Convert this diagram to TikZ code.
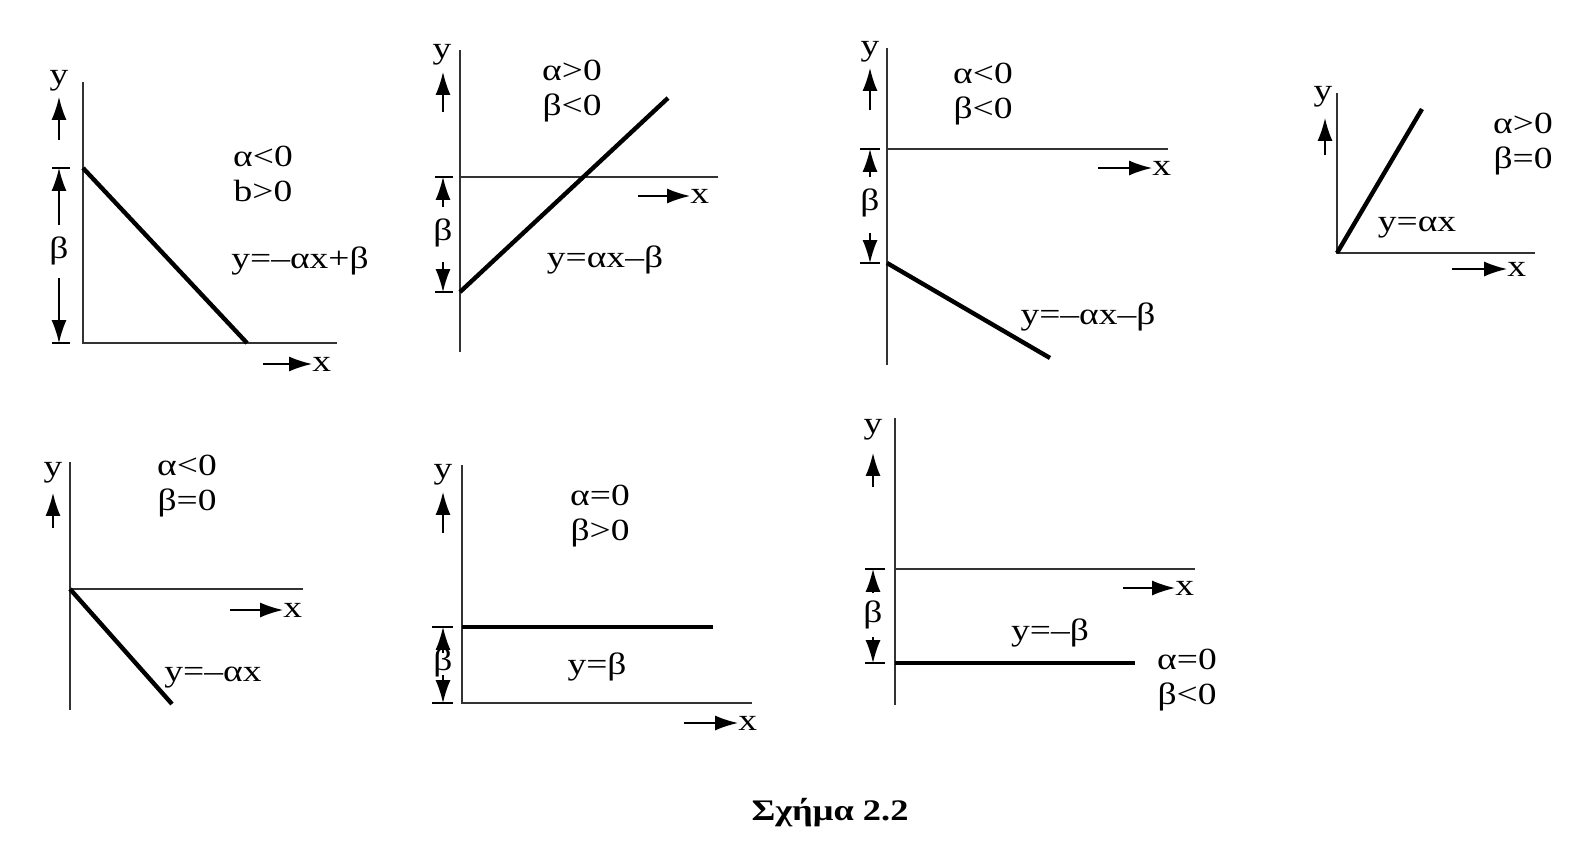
\documentclass[tikz,border=0pt]{standalone}
\usepackage{fontspec}
\setmainfont[FakeStretch=1.22]{Liberation Serif}
\usetikzlibrary{arrows.meta, calc}
\tikzset{
    eje/.style={line width=1.1pt, black!80},
    recta/.style={line width=2.5pt},
    flecha/.style={line width=0.9pt, -{Latex[length=13pt,width=8.5pt]}},
    marca/.style={line width=0.9pt},
    etiqueta/.style={inner sep=0pt, align=center, font=\fontsize{17.5}{19.5}\selectfont},
}

\begin{document}
\begin{tikzpicture}[x=0.02cm, y=-0.02cm]
\useasboundingbox (0,0) rectangle (1589,852);
\begin{scope}[shift={(83,343)}]
\draw[eje] (0,-261) -- (0,0) -- (254,0);
\draw[recta] (0,-175) -- (164,0);
\node[etiqueta] (y1) at (-24,-262) {y};
\draw[flecha] (-24,-203) -- (-24,-246);
\draw[marca] (-31,-175) -- (-13,-175) (-31,0) -- (-13,0);
\node[etiqueta] (b1) at (-24,-92) {β};
\draw[flecha] (-24,-118) -- (-24,-175);
\draw[flecha] (-24,-65) -- (-24,0);
\node[etiqueta] (c1) at (180,-169) {α<0\\b>0};
\node[etiqueta] (e1) at (217,-82) {y=–αx+β};
\node[etiqueta, anchor=west] (x1) at (229,21) {x};
\draw[flecha] (180,21) -- (x1.west);
\end{scope}
\begin{scope}[shift={(460,177)}]
\draw[eje] (0,-127) -- (0,175);
\draw[eje] (0,0) -- (258,0);
\draw[recta] (0,115) -- (208,-79);
\node[etiqueta] (y2) at (-18,-122) {y};
\draw[flecha] (-17,-65) -- (-17,-105);
\draw[marca] (-25,0) -- (-7,0) (-25,115) -- (-7,115);
\node[etiqueta] (b2) at (-17,56) {β};
\draw[flecha] (-17,30) -- (-17,0);
\draw[flecha] (-17,85) -- (-17,115);
\node[etiqueta] (c2) at (112,-86) {α>0\\β<0};
\node[etiqueta] (e2) at (145,83) {y=αx–β};
\node[etiqueta, anchor=west] (x2) at (230,19) {x};
\draw[flecha] (178,19) -- (x2.west);
\end{scope}
\begin{scope}[shift={(887,149)}]
\draw[eje] (0,-101) -- (0,216);
\draw[eje] (0,0) -- (281,0);
\draw[recta] (0,114) -- (163,209);
\node[etiqueta] (y3) at (-17,-97) {y};
\draw[flecha] (-17,-39) -- (-17,-81);
\draw[marca] (-27,0) -- (-7,0) (-27,114) -- (-7,114);
\node[etiqueta] (b3) at (-17,54) {β};
\draw[flecha] (-17,28) -- (-17,0);
\draw[flecha] (-17,84) -- (-17,114);
\node[etiqueta] (c3) at (96,-55) {α<0\\β<0};
\node[etiqueta] (e3) at (201,168) {y=–αx–β};
\node[etiqueta, anchor=west] (x3) at (265,19) {x};
\draw[flecha] (211,19) -- (x3.west);
\end{scope}
\begin{scope}[shift={(1337,253)}]
\draw[eje] (0,-160) -- (0,0) -- (198,0);
\draw[recta] (0,0) -- (85,-144);
\node[etiqueta] (y4) at (-14,-156) {y};
\draw[flecha] (-12,-98) -- (-12,-135);
\node[etiqueta] (c4) at (186,-109) {α>0\\β=0};
\node[etiqueta] (e4) at (80,-25) {y=αx};
\node[etiqueta, anchor=west] (x4) at (170,16) {x};
\draw[flecha] (115,16) -- (x4.west);
\end{scope}
\begin{scope}[shift={(70,589)}]
\draw[eje] (0,-127) -- (0,121);
\draw[eje] (0,0) -- (233,0);
\draw[recta] (0,0) -- (102,115);
\node[etiqueta] (y5) at (-17,-116) {y};
\draw[flecha] (-17,-61) -- (-17,-96);
\node[etiqueta] (c5) at (117,-103) {α<0\\β=0};
\node[etiqueta] (e5) at (143,89) {y=–αx};
\node[etiqueta, anchor=west] (x5) at (213,21) {x};
\draw[flecha] (160,21) -- (x5.west);
\end{scope}
\begin{scope}[shift={(462,703)}]
\draw[eje] (0,-238) -- (0,0) -- (290,0);
\draw[recta] (0,-76) -- (251,-76);
\node[etiqueta] (y6) at (-19,-228) {y};
\draw[flecha] (-19,-170) -- (-19,-211);
\draw[marca] (-30,-76) -- (-9,-76) (-30,0) -- (-9,0);
\node[etiqueta] (b6) at (-19,-40) {β};
\draw[flecha] (-19,-50) -- (-19,-76);
\draw[flecha] (-19,-28) -- (-19,0);
\node[etiqueta] (c6) at (138,-187) {α=0\\β>0};
\node[etiqueta] (e6) at (135,-36) {y=β};
\node[etiqueta, anchor=west] (x6) at (276,20) {x};
\draw[flecha] (222,20) -- (x6.west);
\end{scope}
\begin{scope}[shift={(895,569)}]
\draw[eje] (0,-151) -- (0,136);
\draw[eje] (0,0) -- (300,0);
\draw[recta] (0,94) -- (240,94);
\node[etiqueta] (y7) at (-22,-139) {y};
\draw[flecha] (-22,-82) -- (-22,-116);
\draw[marca] (-30,0) -- (-10,0) (-30,94) -- (-10,94);
\node[etiqueta] (b7) at (-22,46) {β};
\draw[flecha] (-22,24) -- (-22,0);
\draw[flecha] (-22,68) -- (-22,94);
\node[etiqueta] (e7) at (155,64) {y=–β};
\node[etiqueta] (c7) at (292,111) {α=0\\β<0};
\node[etiqueta, anchor=west] (x7) at (280,19) {x};
\draw[flecha] (228,19) -- (x7.west);
\end{scope}
\node[etiqueta, font=\fontsize{17}{19.5}\selectfont\bfseries] (titulo) at (830,813) {Σχήμα 2.2};
\end{tikzpicture}
\end{document}
